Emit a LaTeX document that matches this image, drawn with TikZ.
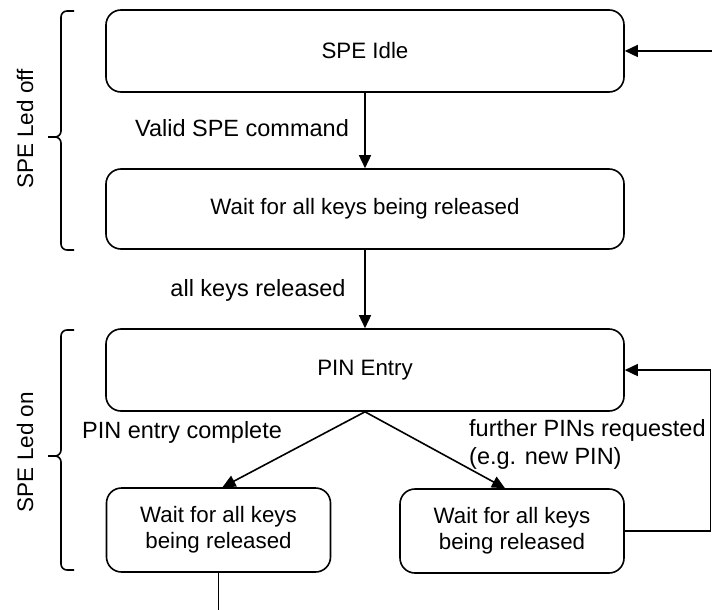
\documentclass[tikz,border=0pt]{standalone}
\usepackage{fontspec}
\setmainfont{Liberation Sans}
\usetikzlibrary{arrows.meta}
\begin{document}
\begin{tikzpicture}[x=1pt,y=-1pt,
  statebox/.style={draw,line width=1.6pt,rounded corners=15pt,minimum width=518pt,minimum height=82pt,inner sep=0pt,font=\fontsize{22.3}{26}\selectfont},
  smallbox/.style={statebox,minimum width=224pt,minimum height=84pt,align=center},
  lbl/.style={font=\fontsize{23.5}{28}\selectfont,inner sep=0pt},
  sidelbl/.style={font=\fontsize{22.5}{28}\selectfont,inner sep=0pt,rotate=90},
  conn/.style={line width=1.6pt,-{Triangle[length=13pt,width=12pt]}},
  plainline/.style={line width=1.6pt},
  bracepath/.style={line width=1.6pt}]
\useasboundingbox (0,0) rectangle (712,610);
\node[statebox] (b1) at (365,51) {SPE Idle};
\node[statebox,minimum height=80pt] (b2) at (365,209) {Wait for all keys being released};
\node[statebox] (b3) at (365,370) {PIN Entry};
\node[smallbox] (b4) at (218.5,530) {Wait for all keys\\being released};
\node[smallbox] (b5) at (512,531) {Wait for all keys\\being released};
\coordinate (inR) at (712,51);
\coordinate (loopR) at (710.5,0);
\coordinate (outB) at (218.5,612);
\draw[conn] (inR) -- (b1.east);
\draw[conn] (b1.south) -- (b2.north);
\draw[conn] (b2.south) -- (b3.north);
\draw[conn] (b3.south) -- ([xshift=4pt]b4.north);
\draw[conn] (b3.south) -- ([xshift=-7pt]b5.north);
\draw[conn] (b5.east) -- (b5.east -| loopR) |- (b3.east);
\draw[plainline] (b4.south) -- (outB);
\node[lbl] (l1) at (242,128) {Valid SPE command};
\node[lbl] (l2) at (258,290) {all keys released};
\node[lbl] (l3) at (182,432) {PIN entry complete};
\node[lbl,align=left,anchor=west] (l4) at (469,444) {further PINs requested\\(e.g. new PIN)};
\node[sidelbl] (s1) at (25,129) {SPE Led off};
\node[sidelbl] (s2) at (25,452) {SPE Led on};
\draw[bracepath] (74,11) -- (67,11) to[out=180,in=90] (61,17) -- (61,131) to[out=270,in=0] (55,137) -- (48,137);
\draw[bracepath] (48,137) -- (55,137) to[out=0,in=90] (61,143) -- (61,244) to[out=270,in=180] (67,250) -- (74,250);
\draw[bracepath] (74,330) -- (67,330) to[out=180,in=90] (61,336) -- (61,450) to[out=270,in=0] (55,456) -- (48,456);
\draw[bracepath] (48,456) -- (55,456) to[out=0,in=90] (61,462) -- (61,564) to[out=270,in=180] (67,570) -- (74,570);
\end{tikzpicture}
\end{document}
